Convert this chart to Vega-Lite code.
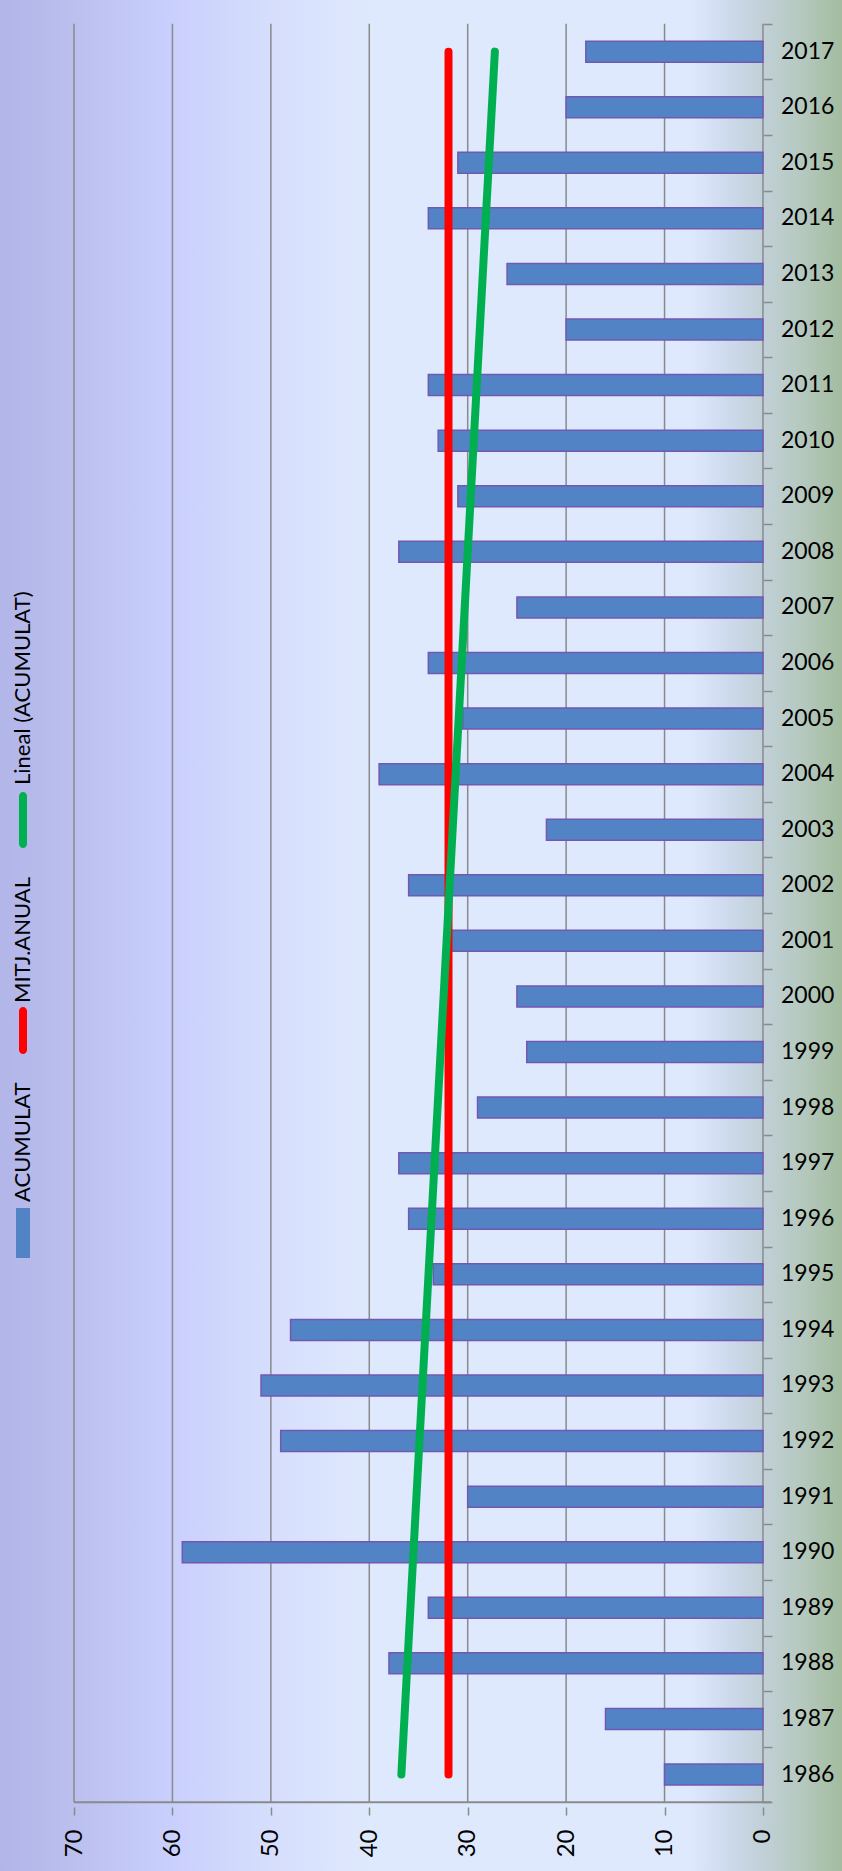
{
  "$schema": "https://vega.github.io/schema/vega-lite/v6.json",
  "width": 842,
  "height": 1871,
  "padding": 0,
  "autosize": {"type": "none"},
  "background": "#d6defb",
  "config": {"view": {"stroke": null}, "font": "Lato", "style": {"guide-label": {"angle": 270}}},
  "datasets": {
    "acum": [
      {"year": 1986, "acum": 10}, {"year": 1987, "acum": 16}, {"year": 1988, "acum": 38},
      {"year": 1989, "acum": 34}, {"year": 1990, "acum": 59}, {"year": 1991, "acum": 30},
      {"year": 1992, "acum": 49}, {"year": 1993, "acum": 51}, {"year": 1994, "acum": 48},
      {"year": 1995, "acum": 33.5}, {"year": 1996, "acum": 36}, {"year": 1997, "acum": 37},
      {"year": 1998, "acum": 29}, {"year": 1999, "acum": 24}, {"year": 2000, "acum": 25},
      {"year": 2001, "acum": 31.7}, {"year": 2002, "acum": 36}, {"year": 2003, "acum": 22},
      {"year": 2004, "acum": 39}, {"year": 2005, "acum": 30.5}, {"year": 2006, "acum": 34},
      {"year": 2007, "acum": 25}, {"year": 2008, "acum": 37}, {"year": 2009, "acum": 31},
      {"year": 2010, "acum": 33}, {"year": 2011, "acum": 34}, {"year": 2012, "acum": 20},
      {"year": 2013, "acum": 26}, {"year": 2014, "acum": 34}, {"year": 2015, "acum": 31},
      {"year": 2016, "acum": 20}, {"year": 2017, "acum": 18}
    ],
    "grid": [{"g": 0}, {"g": 10}, {"g": 20}, {"g": 30}, {"g": 40}, {"g": 50}, {"g": 60}, {"g": 70}],
    "mean": [{"year": 1986, "v": 31.95}, {"year": 2017, "v": 31.95}],
    "trend": [{"year": 1986, "v": 36.74}, {"year": 2017, "v": 27.24}],
    "series": [{"series": "Lineal (ACUMULAT)"}, {"series": "MITJ.ANUAL"}, {"series": "ACUMULAT"}]
  },
  "layer": [
    {
      "data": {"values": [{}]},
      "mark": {
        "type": "rect",
        "fill": {
          "gradient": "linear", "x1": 0, "y1": 0, "x2": 1, "y2": 0,
          "stops": [
            {"offset": 0, "color": "#b1b5e8"},
            {"offset": 0.09, "color": "#bbc0ef"},
            {"offset": 0.2, "color": "#c9cffc"},
            {"offset": 0.32, "color": "#d6defd"},
            {"offset": 0.44, "color": "#dfe9fd"},
            {"offset": 0.82, "color": "#dfe9fd"},
            {"offset": 0.86, "color": "#cfdbef"},
            {"offset": 0.905, "color": "#c1d0d8"},
            {"offset": 0.95, "color": "#b6c9c0"},
            {"offset": 1, "color": "#a3bc9f"}
          ]
        }
      },
      "encoding": {}
    },
    {
      "data": {"name": "grid"},
      "mark": {"type": "rule", "stroke": "#8a8a8a", "strokeWidth": 1.5},
      "encoding": {
        "x": {"field": "g", "type": "quantitative", "title": null,
              "scale": {"domain": [-8.03, 77.52], "reverse": true, "nice": false, "zero": false}},
        "y": {"datum": 1985.5, "type": "quantitative", "title": null,
              "scale": {"domain": [1984.354, 2017.839], "nice": false, "zero": false}},
        "y2": {"datum": 2017.5}
      }
    },
    {
      "data": {"values": [{}]},
      "mark": {"type": "rule", "stroke": "#8a8a8a", "strokeWidth": 2},
      "encoding": {
        "x": {"datum": 70, "type": "quantitative", "title": null,
              "scale": {"domain": [-8.03, 77.52], "reverse": true, "nice": false, "zero": false}},
        "x2": {"datum": -0.8},
        "y": {"datum": 1985.5, "type": "quantitative", "title": null,
              "scale": {"domain": [1984.354, 2017.839], "nice": false, "zero": false}}
      }
    },
    {
      "data": {"name": "acum"},
      "mark": {"type": "bar", "orient": "horizontal", "size": 21, "fill": "#5284c5", "stroke": "#7358b3", "strokeWidth": 1.5},
      "encoding": {
        "x": {"field": "acum", "type": "quantitative", "title": null,
              "scale": {"domain": [-8.03, 77.52], "reverse": true, "nice": false, "zero": false},
              "axis": {"orient": "bottom", "offset": -64, "values": [0, 10, 20, 30, 40, 50, 60, 70],
                       "domain": false, "grid": false, "tickSize": 8, "tickColor": "#8a8a8a", "tickWidth": 1.5,
                       "labelAngle": 270, "labelAlign": "right", "labelBaseline": "middle",
                       "labelFont": "Lato", "labelFontSize": 24, "labelColor": "#000000",
                       "labelPadding": 14, "labelFlush": false, "labelOverlap": false, "labelBound": false,
                       "title": null, "zindex": 1}},
        "x2": {"datum": 0},
        "y": {"field": "year", "type": "quantitative", "title": null,
              "scale": {"domain": [1984.354, 2017.839], "nice": false, "zero": false},
              "axis": {"orient": "right", "offset": -79,
                       "values": [1985.5,1986.5,1987.5,1988.5,1989.5,1990.5,1991.5,1992.5,1993.5,1994.5,1995.5,1996.5,1997.5,1998.5,1999.5,2000.5,2001.5,2002.5,2003.5,2004.5,2005.5,2006.5,2007.5,2008.5,2009.5,2010.5,2011.5,2012.5,2013.5,2014.5,2015.5,2016.5,2017.5],
                       "domain": false, "grid": false, "tickSize": 9, "tickColor": "#8a8a8a", "tickWidth": 1.5,
                       "labels": false, "title": null, "zindex": 1}}
      }
    },
    {
      "data": {"name": "acum"},
      "mark": {"type": "text", "align": "left", "baseline": "middle", "font": "Lato", "fontSize": 23, "color": "#000000"},
      "encoding": {
        "x": {"datum": -1.83, "type": "quantitative", "title": null,
              "scale": {"domain": [-8.03, 77.52], "reverse": true, "nice": false, "zero": false}},
        "y": {"field": "year", "type": "quantitative", "title": null,
              "scale": {"domain": [1984.354, 2017.839], "nice": false, "zero": false}},
        "text": {"field": "year", "type": "ordinal"}
      }
    },
    {
      "data": {"name": "mean"},
      "mark": {"type": "line", "strokeWidth": 8, "strokeCap": "round", "stroke": "#ff0000"},
      "encoding": {
        "x": {"field": "v", "type": "quantitative", "title": null,
              "scale": {"domain": [-8.03, 77.52], "reverse": true, "nice": false, "zero": false}},
        "y": {"field": "year", "type": "quantitative", "title": null,
              "scale": {"domain": [1984.354, 2017.839], "nice": false, "zero": false}}
      }
    },
    {
      "data": {"name": "trend"},
      "mark": {"type": "line", "strokeWidth": 8, "strokeCap": "round", "stroke": "#00b050"},
      "encoding": {
        "x": {"field": "v", "type": "quantitative", "title": null,
              "scale": {"domain": [-8.03, 77.52], "reverse": true, "nice": false, "zero": false}},
        "y": {"field": "year", "type": "quantitative", "title": null,
              "scale": {"domain": [1984.354, 2017.839], "nice": false, "zero": false}}
      }
    },
    {
      "data": {"name": "series"},
      "transform": [{"filter": "false"}],
      "mark": {"type": "point", "filled": true, "opacity": 1},
      "encoding": {
        "color": {"field": "series", "type": "nominal",
                  "scale": {"domain": ["Lineal (ACUMULAT)", "MITJ.ANUAL", "ACUMULAT"], "range": ["#00b050", "#ff0000", "#5284c5"]},
                  "legend": {
                    "orient": "none", "legendX": 12, "legendY": 774, "direction": "vertical",
                    "title": null, "padding": 0, "rowPadding": 28, "symbolSize": 100, "symbolStrokeWidth": 0,
                    "symbolOpacity": 1,
                    "labelFont": "Lato", "labelFontSize": 22, "labelColor": "#000000", "labelLimit": 600,
                    "labelOffset": -11, "labelAlign": "left", "labelBaseline": "middle"
                  }},
        "shape": {"field": "series", "type": "nominal",
                  "scale": {"domain": ["Lineal (ACUMULAT)", "MITJ.ANUAL", "ACUMULAT"],
                            "range": ["M-0.8,2.2A0.8,0.8,0,0,1,0.8,2.2L0.8,11.8A0.8,0.8,0,0,1,-0.8,11.8Z",
                                      "M-0.8,1.6A0.8,0.8,0,0,1,0.8,1.6L0.8,9.4A0.8,0.8,0,0,1,-0.8,9.4Z",
                                      "M-1.4,1.2L1.4,1.2L1.4,11.2L-1.4,11.2Z"]}}
      }
    }
  ]
}
